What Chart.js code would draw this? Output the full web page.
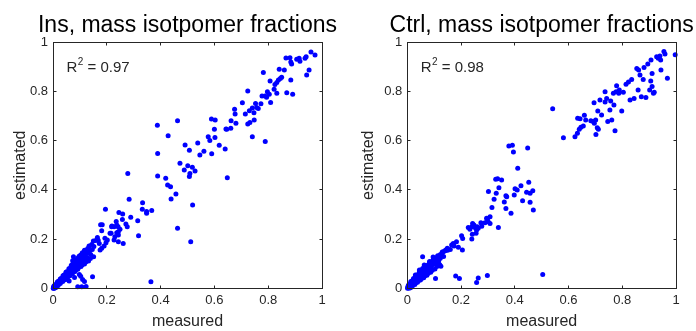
<!DOCTYPE html>
<html lang="en">
<head>
<meta charset="UTF-8">
<title>Mass isotopomer fractions</title>
<script src="https://cdn.jsdelivr.net/npm/chart.js"></script>
<style>
  html, body { margin: 0; padding: 0; background: #fff; }
  .wrap { position: relative; width: 696px; height: 331px; }
  .panel { position: absolute; top: 0; width: 348px; height: 331px; }
</style>
</head>
<body>
<div class="wrap">
  <div class="panel" style="left:0"><canvas id="insChart" width="348" height="331"></canvas></div>
  <div class="panel" style="left:348px"><canvas id="ctrlChart" width="348" height="331"></canvas></div>
</div>
<script>
// [measured, estimated] pairs
const insPoints = [
  [0.959,0.959],[0.974,0.947],[0.941,0.940],[0.937,0.934],[0.915,0.934],[0.906,0.930],[0.918,0.922],[0.881,0.936],
  [0.866,0.935],[0.884,0.919],[0.887,0.911],[0.943,0.866],[0.952,0.886],[0.860,0.886],[0.841,0.889],[0.782,0.876],
  [0.884,0.846],[0.869,0.794],[0.891,0.788],[0.807,0.842],[0.825,0.828],[0.832,0.836],[0.838,0.846],[0.845,0.852],
  [0.850,0.857],[0.822,0.808],[0.832,0.792],[0.797,0.798],[0.804,0.788],[0.809,0.755],[0.777,0.781],[0.788,0.781],
  [0.794,0.776],[0.773,0.749],[0.753,0.751],[0.757,0.734],[0.763,0.730],[0.741,0.732],[0.747,0.713],[0.748,0.684],
  [0.730,0.721],[0.732,0.673],[0.724,0.667],[0.724,0.801],[0.704,0.754],[0.715,0.708],[0.675,0.727],[0.677,0.708],
  [0.680,0.670],[0.662,0.681],[0.661,0.650],[0.646,0.646],[0.643,0.647],[0.741,0.616],[0.789,0.596],
  [0.589,0.688],[0.603,0.684],[0.600,0.646],[0.602,0.613],[0.583,0.600],[0.577,0.616],[0.618,0.581],[0.640,0.566],
  [0.590,0.547],[0.561,0.557],[0.546,0.542],[0.538,0.590],[0.507,0.561],[0.491,0.582],[0.388,0.662],[0.463,0.681],
  [0.428,0.620],[0.389,0.548],[0.648,0.449],
  [0.472,0.508],[0.488,0.481],[0.501,0.498],[0.518,0.492],[0.528,0.477],[0.509,0.467],[0.507,0.454],[0.519,0.339],
  [0.463,0.244],[0.512,0.190],[0.389,0.456],[0.419,0.447],[0.426,0.420],[0.437,0.413],[0.457,0.383],[0.439,0.363],
  [0.278,0.467],[0.283,0.362],[0.333,0.348],[0.332,0.321],[0.348,0.312],[0.367,0.316],[0.348,0.305],[0.289,0.289],
  [0.315,0.275],[0.318,0.214],[0.195,0.321],[0.245,0.308],[0.259,0.302],[0.258,0.280],[0.271,0.262],[0.276,0.251],
  [0.235,0.272],[0.242,0.251],[0.243,0.230],[0.218,0.251],[0.212,0.224],[0.177,0.259],[0.183,0.259],[0.181,0.234],
  [0.219,0.254],[0.227,0.251],[0.237,0.258],[0.249,0.240],[0.237,0.226],[0.243,0.217],[0.216,0.224],[0.230,0.210],
  [0.227,0.197],[0.243,0.190],[0.261,0.183],[0.193,0.204],[0.202,0.197],[0.197,0.186],[0.190,0.172],[0.181,0.163],
  [0.175,0.156],[0.165,0.207],[0.168,0.196],[0.172,0.183],[0.364,0.027],
  [0.004,0.011],[0.009,0.016],[0.016,0.026],[0.020,0.029],[0.027,0.039],[0.030,0.041],[0.037,0.052],[0.041,0.055],
  [0.048,0.066],[0.051,0.068],[0.059,0.080],[0.062,0.081],[0.068,0.094],[0.075,0.101],[0.076,0.129],[0.073,0.113],
  [0.081,0.108],[0.085,0.117],[0.093,0.124],[0.097,0.131],[0.109,0.145],[0.117,0.155],[0.103,0.136],[0.113,0.143],
  [0.120,0.153],[0.129,0.162],[0.134,0.172],[0.144,0.179],[0.150,0.193],[0.159,0.195],
  [0.003,0.005],[0.008,0.007],[0.011,0.014],[0.017,0.018],[0.019,0.023],[0.024,0.025],[0.026,0.032],[0.031,0.034],
  [0.033,0.039],[0.039,0.042],[0.040,0.048],[0.046,0.050],[0.048,0.056],[0.054,0.059],[0.055,0.066],[0.061,0.066],
  [0.063,0.073],[0.069,0.074],[0.070,0.083],[0.076,0.082],[0.078,0.090],[0.084,0.091],[0.086,0.099],[0.092,0.100],
  [0.094,0.108],[0.101,0.110],[0.104,0.119],[0.111,0.120],[0.114,0.130],[0.121,0.130],[0.125,0.142],[0.133,0.144],
  [0.137,0.154],[0.146,0.158],[0.152,0.170],
  [0.006,0.002],[0.010,0.004],[0.013,0.010],[0.019,0.012],[0.021,0.018],[0.027,0.020],[0.030,0.026],[0.036,0.028],
  [0.038,0.034],[0.045,0.036],[0.047,0.042],[0.054,0.045],[0.056,0.050],[0.063,0.052],[0.065,0.059],[0.072,0.060],
  [0.075,0.067],[0.082,0.069],[0.085,0.076],[0.092,0.078],[0.096,0.086],[0.104,0.089],[0.108,0.095],[0.117,0.099],
  [0.122,0.108],[0.132,0.112],[0.139,0.122],[0.151,0.129],
  [0.001,0.001],[0.003,0.001],[0.002,0.006],[0.006,0.009],[0.008,0.003],[0.012,0.007],[0.014,0.016],[0.022,0.022],
  [0.028,0.027],[0.034,0.032],[0.043,0.040],[0.050,0.047],[0.058,0.055],[0.067,0.064],[0.074,0.072],[0.083,0.081],
  [0.090,0.088],[0.099,0.097],[0.107,0.104],[0.118,0.116],[0.128,0.124],[0.140,0.138],
  [0.110,0.037],[0.117,0.028],[0.147,0.048],[0.092,0.007],[0.107,0.007],[0.123,0.008],[0.098,0.057],[0.103,0.050],
  [0.060,0.030],[0.080,0.045]
];

const ctrlPoints = [
  [0.997,0.948],[0.955,0.961],[0.959,0.951],[0.928,0.940],[0.934,0.934],[0.940,0.943],[0.943,0.927],[0.944,0.886],
  [0.968,0.853],[0.907,0.927],[0.895,0.911],[0.881,0.897],[0.854,0.893],[0.861,0.886],[0.911,0.872],[0.866,0.866],
  [0.878,0.848],[0.906,0.842],[0.835,0.848],[0.823,0.838],[0.814,0.829],[0.779,0.823],[0.911,0.819],[0.916,0.792],
  [0.919,0.796],[0.902,0.805],[0.859,0.805],[0.888,0.775],[0.871,0.778],[0.844,0.771],[0.829,0.765],[0.804,0.796],
  [0.789,0.805],[0.777,0.798],[0.767,0.792],[0.787,0.792],[0.736,0.798],[0.717,0.765],[0.736,0.757],[0.742,0.771],
  [0.757,0.761],[0.769,0.744],[0.754,0.724],[0.798,0.720],[0.695,0.754],[0.709,0.720],[0.723,0.704],[0.761,0.684],
  [0.746,0.677],[0.773,0.640],[0.683,0.681],[0.692,0.677],[0.696,0.670],[0.701,0.684],[0.707,0.652],[0.711,0.646],
  [0.702,0.625],[0.659,0.703],[0.664,0.684],[0.634,0.691],[0.643,0.689],[0.633,0.630],[0.640,0.646],[0.646,0.654],
  [0.655,0.659],[0.624,0.616],[0.581,0.612],[0.541,0.729],
  [0.378,0.578],[0.391,0.581],[0.395,0.554],[0.448,0.570],[0.411,0.488],[0.329,0.443],[0.336,0.445],[0.351,0.440],
  [0.341,0.409],[0.302,0.394],[0.331,0.386],[0.323,0.362],[0.401,0.405],[0.409,0.400],[0.423,0.417],[0.367,0.376],
  [0.370,0.372],[0.398,0.379],[0.361,0.351],[0.367,0.325],[0.386,0.305],[0.315,0.329],[0.452,0.431],[0.444,0.390],
  [0.457,0.386],[0.467,0.397],[0.429,0.356],[0.457,0.350],[0.469,0.318],[0.308,0.291],[0.298,0.281],[0.339,0.247],
  [0.504,0.057],
  [0.295,0.285],[0.301,0.271],[0.289,0.267],[0.308,0.264],[0.277,0.253],[0.264,0.244],[0.260,0.251],[0.274,0.267],
  [0.243,0.264],[0.248,0.258],[0.240,0.251],[0.233,0.240],[0.227,0.247],[0.254,0.244],[0.258,0.237],[0.242,0.220],
  [0.240,0.201],[0.256,0.224],[0.202,0.214],[0.206,0.203],[0.183,0.190],[0.190,0.167],[0.171,0.183],[0.165,0.176],
  [0.174,0.172],[0.205,0.156],[0.149,0.163],[0.143,0.156],[0.134,0.149],[0.128,0.138],
  [0.298,0.053],[0.264,0.043],[0.258,0.024],[0.180,0.051],[0.194,0.041],[0.105,0.041],[0.057,0.129],
  [0.004,0.013],[0.010,0.019],[0.013,0.028],[0.020,0.032],[0.023,0.041],[0.030,0.045],[0.033,0.054],[0.041,0.058],
  [0.045,0.068],[0.053,0.071],[0.057,0.081],[0.065,0.084],[0.069,0.092],[0.078,0.096],[0.083,0.106],[0.092,0.110],
  [0.097,0.120],[0.107,0.123],[0.113,0.133],[0.123,0.138],[0.130,0.148],[0.141,0.153],
  [0.002,0.004],[0.007,0.006],[0.009,0.011],[0.015,0.014],[0.017,0.020],[0.023,0.022],[0.025,0.028],[0.031,0.030],
  [0.033,0.037],[0.039,0.039],[0.042,0.045],[0.048,0.048],[0.051,0.055],[0.057,0.057],[0.060,0.064],[0.067,0.067],
  [0.070,0.073],[0.077,0.077],[0.081,0.084],[0.089,0.088],[0.093,0.096],[0.102,0.100],[0.107,0.109],[0.117,0.114],
  [0.123,0.123],
  [0.008,0.002],[0.011,0.006],[0.018,0.008],[0.021,0.014],[0.028,0.016],[0.031,0.022],[0.038,0.025],[0.041,0.031],
  [0.049,0.034],[0.053,0.041],[0.061,0.044],[0.065,0.051],[0.073,0.054],[0.078,0.062],[0.087,0.066],[0.093,0.074],
  [0.103,0.079],[0.110,0.089],[0.121,0.095],
  [0.001,0.001],[0.004,0.002],[0.003,0.008],[0.006,0.011],[0.012,0.003],[0.013,0.017],[0.019,0.025],[0.026,0.019],
  [0.036,0.044],[0.044,0.038],[0.055,0.062],[0.062,0.056],[0.074,0.083],[0.084,0.078],[0.099,0.107],[0.112,0.104],
  [0.030,0.055],[0.045,0.075],[0.063,0.095],[0.083,0.110],[0.096,0.128],[0.110,0.126],[0.150,0.155],[0.118,0.099],
  [0.135,0.130],[0.160,0.158],[0.125,0.090]
];

const axisTicks = [0, 0.2, 0.4, 0.6, 0.8, 1];
const panelTitles = ['Ins, mass isotpomer fractions', 'Ctrl, mass isotpomer fractions'];
const rSquared = ['0.97', '0.98'];

const FONT = '"Liberation Sans", Arial, Helvetica, sans-serif';
const INK = '#262626';

// MATLAB-like box with inward ticks, title and R^2 note
const matlabFrame = {
  id: 'matlabFrame',
  afterDraw(chart, args, opts) {
    const { ctx, chartArea: a, scales: { x, y } } = chart;
    const L = Math.floor(a.left) + 0.5, R = Math.floor(a.right) + 0.5;
    const T = Math.floor(a.top) + 0.5, B = Math.floor(a.bottom) + 0.5;
    ctx.save();
    ctx.strokeStyle = INK;
    ctx.lineWidth = 1;
    ctx.strokeRect(L, T, R - L, B - T);
    ctx.beginPath();
    axisTicks.forEach(v => {
      const px = Math.floor(x.getPixelForValue(v)) + 0.5;
      const py = Math.floor(y.getPixelForValue(v)) + 0.5;
      ctx.moveTo(px, B); ctx.lineTo(px, B - 3);
      ctx.moveTo(px, T); ctx.lineTo(px, T + 3);
      ctx.moveTo(L, py); ctx.lineTo(L + 3, py);
      ctx.moveTo(R, py); ctx.lineTo(R - 3, py);
    });
    ctx.stroke();

    ctx.fillStyle = '#000';
    ctx.font = '23px ' + FONT;
    ctx.textAlign = 'center';
    ctx.textBaseline = 'alphabetic';
    ctx.fillText(opts.title, (a.left + a.right) / 2, 31.5);

    ctx.fillStyle = INK;
    ctx.textAlign = 'left';
    let tx = x.getPixelForValue(0.05);
    const ty = y.getPixelForValue(0.877);
    ctx.font = '15px ' + FONT;
    ctx.fillText('R', tx, ty);
    tx += ctx.measureText('R').width;
    ctx.font = '10px ' + FONT;
    ctx.fillText('2', tx + 0.5, ty - 7);
    tx += ctx.measureText('2').width + 0.5;
    ctx.font = '15px ' + FONT;
    ctx.fillText(' = ' + opts.r2, tx, ty);
    ctx.restore();
  }
};

const tickLabel = v => String(Math.round(v * 10) / 10);

function makeChart(id, points, title, r2, yWidth, rightPad) {
  return new Chart(document.getElementById(id), {
    type: 'scatter',
    data: {
      datasets: [{
        data: points.map(p => ({ x: p[0], y: p[1] })),
        backgroundColor: '#0000ff',
        borderWidth: 0,
        pointRadius: 2.5,
        pointHoverRadius: 2.5,
        clip: false
      }]
    },
    options: {
      responsive: false,
      animation: false,
      events: [],
      layout: { padding: { top: 42, right: rightPad, left: 0, bottom: 0 } },
      plugins: {
        legend: { display: false },
        tooltip: { enabled: false },
        matlabFrame: { title: title, r2: r2 }
      },
      scales: {
        x: {
          type: 'linear', min: 0, max: 1,
          afterBuildTicks: s => { s.ticks = axisTicks.map(v => ({ value: v })); },
          afterFit: s => { s.height = 42.5; },
          grid: { display: false, drawTicks: false },
          border: { display: false },
          ticks: { padding: 4, color: INK, font: { family: FONT, size: 13 }, maxRotation: 0, callback: tickLabel },
          title: { display: true, text: 'measured', color: INK, font: { family: FONT, size: 16 }, padding: 0 }
        },
        y: {
          type: 'linear', min: 0, max: 1,
          afterBuildTicks: s => { s.ticks = axisTicks.map(v => ({ value: v })); },
          afterFit: s => { s.width = yWidth; },
          grid: { display: false, drawTicks: false },
          border: { display: false },
          ticks: { padding: 5, color: INK, font: { family: FONT, size: 13 }, callback: tickLabel },
          title: { display: true, text: 'estimated', color: INK, font: { family: FONT, size: 16 }, padding: { top: 11 } }
        }
      }
    },
    plugins: [matlabFrame]
  });
}

makeChart('insChart', insPoints, panelTitles[0], rSquared[0], 53, 26);
makeChart('ctrlChart', ctrlPoints, panelTitles[1], rSquared[1], 59.3, 20);
</script>
</body>
</html>
